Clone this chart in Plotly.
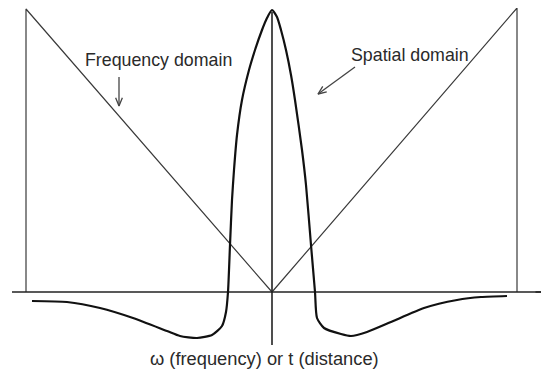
import numpy as np
import plotly.graph_objects as go

# Data (units: horizontal offset from origin, vertical height above the axis)
curve_x = [-240, -205, -172, -139, -105, -92, -75, -60, -50, -46, -44, -42, -40,
           -38, -35, -30, -23, -17, -10, -5, 0,
           5, 9, 14, 19, 23, 30, 34, 39, 43, 45, 52, 69, 79, 95, 119, 152, 185, 209, 235]
curve_y = [-9, -10, -16, -26, -39, -44, -46, -43, -34, -20, 0, 47, 92,
           122, 157, 192, 222, 242, 262, 274, 282,
           275, 262, 242, 217, 192, 142, 107, 47, 0, -26, -36, -42, -44, -40, -30, -16, -8, -5, -4]

freq_x = [-246, -246, 0]
freq_y = [0, 283, 0]
spat_x = [0, 245, 245]
spat_y = [0, 284, 0]

axis_x = [-260, 274]
axis_y = [0, 0]
vert_x = [0, 0]
vert_y = [280, -53]

labels = ["Frequency domain", "Spatial domain", "ω (frequency) or t (distance)"]

fig = go.Figure()

line_col = "#3a3a3a"
fig.add_trace(go.Scatter(x=freq_x, y=freq_y, mode="lines",
                         line=dict(color=line_col, width=1.2), hoverinfo="skip"))
fig.add_trace(go.Scatter(x=spat_x, y=spat_y, mode="lines",
                         line=dict(color=line_col, width=1.2), hoverinfo="skip"))
fig.add_trace(go.Scatter(x=axis_x, y=axis_y, mode="lines",
                         line=dict(color="#222", width=1.6), hoverinfo="skip"))
fig.add_trace(go.Scatter(x=vert_x, y=vert_y, mode="lines",
                         line=dict(color="#222", width=1.6), hoverinfo="skip"))
fig.add_trace(go.Scatter(x=curve_x, y=curve_y, mode="lines",
                         line=dict(color="#111", width=2.2, shape="spline", smoothing=0.6),
                         hoverinfo="skip"))

# axis arrowhead at the right end
fig.add_annotation(x=277, y=0, ax=262, ay=0, xref="x", yref="y", axref="x", ayref="y",
                   showarrow=True, arrowhead=2, arrowsize=0.8, arrowwidth=1.4,
                   arrowcolor="#222", text="")

def open_arrow(x0, y0, x1, y1, head=9, ang=22):
    d = np.array([x0 - x1, y0 - y1], dtype=float)
    d /= np.linalg.norm(d)
    a = np.radians(ang)
    rot = lambda v, t: np.array([v[0]*np.cos(t) - v[1]*np.sin(t), v[0]*np.sin(t) + v[1]*np.cos(t)])
    l = rot(d, a) * head
    r = rot(d, -a) * head
    xs = [x0, x1, None, x1 + l[0], x1, x1 + r[0]]
    ys = [y0, y1, None, y1 + l[1], y1, y1 + r[1]]
    fig.add_trace(go.Scatter(x=xs, y=ys, mode="lines",
                             line=dict(color="#444", width=1.3), hoverinfo="skip"))

open_arrow(-153, 215, -153, 186)
open_arrow(83, 225, 46, 198)

font = dict(family="Liberation Sans, Arial, sans-serif", color="#2a2a2a")
fig.add_annotation(x=-114, y=232, text=labels[0], showarrow=False,
                   font=dict(size=17.8, **font))
fig.add_annotation(x=138, y=237, text=labels[1], showarrow=False,
                   font=dict(size=17.8, **font))
fig.add_annotation(x=-8, y=-66, text=labels[2], showarrow=False,
                   font=dict(size=18.3, **font))

# page body has an 8px margin, so the figure is 8px smaller and its ranges shifted
fig.update_layout(
    width=541, height=362,
    margin=dict(l=0, r=0, t=0, b=0),
    paper_bgcolor="white", plot_bgcolor="white",
    showlegend=False,
    xaxis=dict(range=[-264, 277], visible=False, fixedrange=True),
    yaxis=dict(range=[-78, 284], visible=False, fixedrange=True),
)

fig.write_html("out.html")
